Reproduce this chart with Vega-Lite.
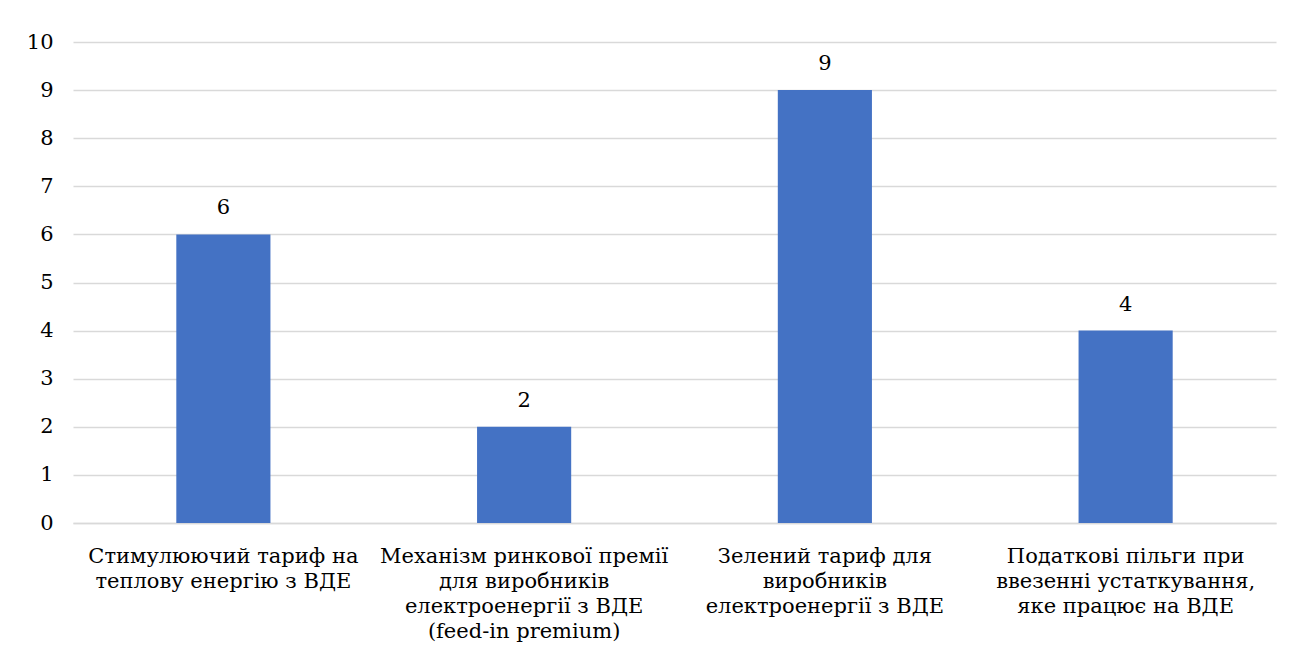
{
  "$schema": "https://vega.github.io/schema/vega-lite/v6.json",
  "width": 1203,
  "height": 481,
  "autosize": {"type": "none"},
  "padding": {"left": 73, "top": 42, "right": 20, "bottom": 149},
  "background": "white",
  "config": {
    "view": {"stroke": null},
    "font": "DejaVu Serif"
  },
  "data": {
    "values": [
      {"category": "Стимулюючий тариф на\nтеплову енергію з ВДЕ", "value": 6},
      {"category": "Механізм ринкової премії\nдля виробників\nелектроенергії з  ВДЕ\n(feed-in premium)", "value": 2},
      {"category": "Зелений тариф для\nвиробників\nелектроенергії з ВДЕ", "value": 9},
      {"category": "Податкові пільги при\nввезенні устаткування,\nяке працює на ВДЕ", "value": 4}
    ]
  },
  "encoding": {
    "x": {
      "field": "category",
      "type": "nominal",
      "sort": null,
      "scale": {"paddingInner": 0.687, "paddingOuter": 0.3435},
      "axis": {
        "title": null,
        "labelAngle": 0,
        "labelExpr": "split(datum.value, '\\n')",
        "labelFont": "DejaVu Serif",
        "labelFontSize": 21,
        "labelColor": "#000000",
        "labelLineHeight": 25,
        "labelPadding": 22,
        "labelBaseline": "top",
        "labelLimit": 0,
        "labelOverlap": false,
        "ticks": false,
        "domainColor": "#d9d9d9",
        "domainWidth": 1.5
      }
    },
    "y": {
      "field": "value",
      "type": "quantitative",
      "scale": {"domain": [0, 10]},
      "axis": {
        "title": null,
        "values": [0, 1, 2, 3, 4, 5, 6, 7, 8, 9, 10],
        "labelOverlap": false,
        "domain": false,
        "ticks": false,
        "labelFont": "DejaVu Serif",
        "labelFontSize": 21,
        "labelColor": "#000000",
        "labelPadding": 20,
        "gridColor": "#d9d9d9",
        "gridWidth": 1.5
      }
    }
  },
  "layer": [
    {"mark": {"type": "bar", "color": "#4472c4"}},
    {
      "mark": {"type": "text", "dy": -26, "fontSize": 21, "font": "DejaVu Serif", "color": "#000000", "baseline": "middle"},
      "encoding": {"text": {"field": "value", "type": "quantitative"}}
    }
  ]
}
